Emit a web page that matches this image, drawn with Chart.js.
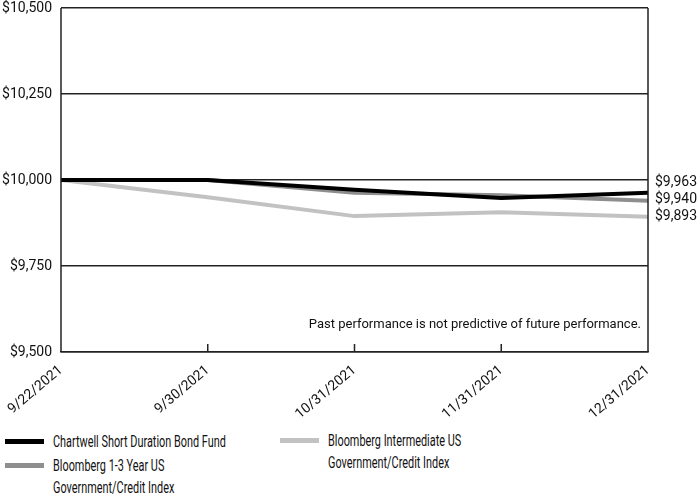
<!DOCTYPE html>
<html>
<head>
<meta charset="utf-8">
<script src="https://cdn.jsdelivr.net/npm/chart.js@4/dist/chart.umd.min.js"></script>
<style>
  body { margin: 0; background: #fff; font-family: Roboto, "Liberation Sans", sans-serif; }
  #wrap { position: relative; width: 700px; height: 425px; }
  #legend { position: relative; width: 700px; height: 69px; font-size: 17px; color: #111; }
  .item { position: absolute; line-height: 22px; }
  .sw { position: absolute; width: 39px; height: 5px; }
  .txt { position: absolute; white-space: nowrap; transform: scaleX(0.64); transform-origin: left top; }
</style>
</head>
<body>
<div id="wrap"><canvas id="myChart"></canvas></div>
<div id="legend"></div>
<script>
var labels = ['9/22/2021', '9/30/2021', '10/31/2021', '11/31/2021', '12/31/2021'];
var fund = [10000, 10000, 9972, 9948, 9963];
var shortIndex = [10000, 10000, 9963, 9956, 9940];
var interIndex = [10000, 9950, 9895, 9906, 9893];
var yTicks = [9500, 9750, 10000, 10250, 10500];
var names = ['Chartwell Short Duration Bond Fund', 'Bloomberg 1-3 Year US\nGovernment/Credit Index', 'Bloomberg Intermediate US\nGovernment/Credit Index'];
var colors = ['#000000', '#8e8e8e', '#c2c2c2'];
var note = 'Past performance is not predictive of future performance.';

var font = 'Roboto, "Liberation Sans", sans-serif';

function money(v) {
    return '$' + v.toLocaleString('en-US');
}

var extras = {
    id: 'extras',
    afterDraw: function (chart) {
        var ctx = chart.ctx;
        var a = chart.chartArea;
        var xs = chart.scales.x;
        var ys = chart.scales.y;
        ctx.save();
        ctx.strokeStyle = '#222';
        ctx.lineWidth = 1.5;
        ctx.beginPath();
        ctx.moveTo(a.left, a.top); ctx.lineTo(a.left, a.bottom);
        ctx.moveTo(a.right, a.top); ctx.lineTo(a.right, a.bottom);
        for (let i = 1; i < labels.length - 1; i++) {
            var px = xs.getPixelForValue(i);
            ctx.moveTo(px, a.bottom); ctx.lineTo(px, a.bottom - 8);
        }
        ctx.stroke();

        // end value labels
        var ends = chart.data.datasets.map(function (d) { return d.data[d.data.length - 1]; });
        var order = ends.map(function (v, i) { return i; }).sort(function (p, q) { return ends[p] - ends[q]; });
        var prev = null;
        ctx.fillStyle = '#111';
        ctx.font = '14px ' + font;
        ctx.textAlign = 'left';
        ctx.textBaseline = 'middle';
        order.forEach(function (i) {
            var y = ys.getPixelForValue(ends[i]);
            if (prev !== null && y > prev - 17) y = prev - 17;
            prev = y;
            ctx.fillText(money(ends[i]), a.right + 7, y);
        });

        ctx.font = '13px ' + font;
        ctx.textAlign = 'right';
        ctx.fillText(note, a.right - 7, a.bottom - 27);
        ctx.restore();
    }
};

var ctx = document.getElementById('myChart').getContext('2d');
var myChart = new Chart(ctx, {
    type: 'line',
    data: {
        labels: labels,
        datasets: [
            { label: names[0], data: fund, borderColor: colors[0], borderWidth: 4 },
            { label: names[1], data: shortIndex, borderColor: colors[1], borderWidth: 4 },
            { label: names[2], data: interIndex, borderColor: colors[2], borderWidth: 4 }
        ]
    },
    options: {
        responsive: true,
        maintainAspectRatio: false,
        animation: false,
        layout: { padding: { top: 8, right: 52 } },
        elements: { point: { radius: 0 }, line: { tension: 0 } },
        plugins: { legend: { display: false }, tooltip: { enabled: false } },
        scales: {
            x: {
                grid: { display: false },
                border: { display: true, color: '#222', width: 1.5 },
                ticks: {
                    color: '#111', font: { family: font, size: 14 },
                    minRotation: 40, maxRotation: 40, padding: 2
                },
                afterFit: function (scale) { scale.height = 73; }
            },
            y: {
                min: 9500, max: 10500,
                afterBuildTicks: function (scale) {
                    scale.ticks = yTicks.map(function (v) { return { value: v }; });
                },
                grid: { color: '#222', lineWidth: 1.5, drawTicks: false },
                border: { display: false },
                ticks: {
                    color: '#111', font: { family: font, size: 14 }, padding: 9,
                    callback: function (v) { return money(v); }
                },
                afterFit: function (scale) {
                    scale.width = 61;
                    scale.paddingTop = 0;
                    scale.paddingBottom = 0;
                }
            }
        }
    },
    plugins: [extras]
});

// legend below the chart
var legend = document.getElementById('legend');
var spots = [[5, 5], [5, 29], [280, 4]];
names.forEach(function (n, i) {
    var item = document.createElement('div');
    item.className = 'item';
    item.style.left = spots[i][0] + 'px';
    item.style.top = spots[i][1] + 'px';
    var sw = document.createElement('div');
    sw.className = 'sw';
    sw.style.background = colors[i];
    sw.style.top = '9px';
    sw.style.left = '0px';
    var t = document.createElement('div');
    t.className = 'txt';
    t.style.left = '48px';
    t.innerHTML = n.replace('\n', '<br>');
    item.appendChild(sw);
    item.appendChild(t);
    legend.appendChild(item);
});
</script>
</body>
</html>
